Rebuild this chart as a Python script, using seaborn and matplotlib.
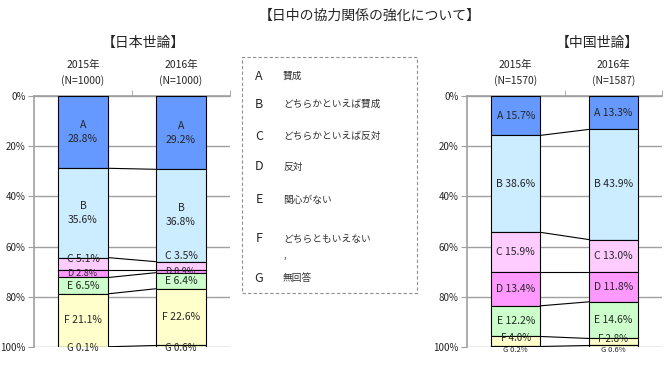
import matplotlib
matplotlib.use('Agg')
import matplotlib.pyplot as plt
import seaborn as sns
import pandas as pd
from matplotlib.patches import Rectangle

# answer categories
cats = ['A', 'B', 'C', 'D', 'E', 'F', 'G']
cat_names = ['賛成', 'どちらかといえば賛成', 'どちらかといえば反対', '反対',
             '関心がない', 'どちらともいえない', '無回答']
colors = ['#6699FF', '#CCECFF', '#FFCCFF', '#FF99FF', '#CCFFCC', '#FFFFCC', '#FFFFCC']

# Japanese public opinion (%)
jp_years = ['2015年\n(N=1000)', '2016年\n(N=1000)']
jp_2015 = [28.8, 35.6, 5.1, 2.8, 6.5, 21.1, 0.1]
jp_2016 = [29.2, 36.8, 3.5, 0.9, 6.4, 22.6, 0.6]

# Chinese public opinion (%)
cn_years = ['2015年\n(N=1570)', '2016年\n(N=1587)']
cn_2015 = [15.7, 38.6, 15.9, 13.4, 12.2, 4.0, 0.2]
cn_2016 = [13.3, 43.9, 13.0, 11.8, 14.6, 2.8, 0.6]

sns.set_style('white')
plt.rcParams['font.family'] = ['Noto Sans CJK JP', 'DejaVu Sans']

W, H = 670, 369


def fx(px):
    return px / W


def fy(py):
    return 1 - py / H


def draw_panel(ax, years, v15, v16, width, two_line, shifts):
    cum = [[0], [0]]
    for v, c in zip((v15, v16), cum):
        for x in v:
            c.append(c[-1] + x)
    for i, cat in enumerate(cats):
        df = pd.DataFrame({'year': years, 'value': [v15[i], v16[i]]})
        sns.barplot(data=df, x='year', y='value', bottom=[cum[0][i], cum[1][i]],
                    color=colors[i], saturation=1, width=width, edgecolor='black',
                    linewidth=0.8, errorbar=None, ax=ax, zorder=3)
    # series lines between the two bars
    for i in range(1, len(cats)):
        ax.plot([width / 2, 1 - width / 2], [cum[0][i], cum[1][i]],
                color='black', lw=0.8, zorder=3)
    # labels
    for j, vals in enumerate((v15, v16)):
        for i, cat in enumerate(cats):
            mid = cum[j][i] + vals[i] / 2
            if cat in two_line:
                txt = f'{cat}\n{vals[i]:.1f}%'
            else:
                txt = f'{cat} {vals[i]:.1f}%'
            y, fs = shifts.get((j, cat), (mid, 7.5))
            ax.text(j, y, txt, ha='center', va='center', fontsize=fs,
                    linespacing=1.5, zorder=4)

    ax.set_xlim(-0.5, 1.5)
    ax.set_ylim(100, 0)
    ax.set_yticks(range(0, 101, 20), [f'{t}%' for t in range(0, 101, 20)])
    ax.xaxis.tick_top()
    ax.set_xticks([0, 1], years)
    ax.set_xticks([0.5, 1.5], minor=True)
    ax.tick_params(axis='x', which='major', length=0, pad=7, labelsize=7.5)
    ax.tick_params(axis='x', which='minor', length=4, color='#A0A0A0', top=True, bottom=False)
    ax.tick_params(axis='y', length=4, color='#A0A0A0', left=True, labelsize=7, pad=2)
    for lab in ax.get_xticklabels():
        lab.set_linespacing(1.6)
    ax.grid(axis='y', color='#A0A0A0', lw=1)
    ax.set_axisbelow(True)
    ax.set_xlabel('')
    ax.set_ylabel('')
    for side in ('right', 'bottom'):
        ax.spines[side].set_visible(False)
    for side in ('left', 'top'):
        ax.spines[side].set_color('#A0A0A0')
        ax.spines[side].set_linewidth(1.2)


fig = plt.figure(figsize=(6.7, 3.69), dpi=100)

ax1 = fig.add_axes([fx(34), fy(347), fx(230) - fx(34), fy(96) - fy(347)])
jp_shift = {(0, 'C'): (64.8, 7.5), (1, 'C'): (63.6, 7.5),
            (0, 'D'): (70.9, 6.5), (1, 'D'): (69.9, 6.5),
            (0, 'G'): (100.2, 7), (1, 'G'): (100.2, 7)}
draw_panel(ax1, jp_years, jp_2015, jp_2016, 0.52, ('A', 'B'), jp_shift)

ax2 = fig.add_axes([fx(467), fy(347), fx(662) - fx(467), fy(96) - fy(347)])
cn_shift = {(0, 'F'): (96.6, 7), (1, 'F'): (96.9, 7),
            (0, 'G'): (101.3, 5.5), (1, 'G'): (101.3, 5.5)}
draw_panel(ax2, cn_years, cn_2015, cn_2016, 0.5, (), cn_shift)

# titles
fig.text(fx(370), fy(16), '【日中の協力関係の強化について】', ha='center', va='center', fontsize=10)
fig.text(fx(143), fy(43), '【日本世論】', ha='center', va='center', fontsize=10)
fig.text(fx(597), fy(43), '【中国世論】', ha='center', va='center', fontsize=10)

# legend box
fig.patches.append(Rectangle((fx(242), fy(293)), fx(417) - fx(242), fy(57) - fy(293),
                             transform=fig.transFigure, fill=False, edgecolor='#909090',
                             linestyle=(0, (3, 2)), lw=0.8))
row_y = [76, 104, 136, 167, 200, 239, 278]
for cat, name, y in zip(cats, cat_names, row_y):
    fig.text(fx(259), fy(y), cat, ha='center', va='center', fontsize=9)
    fig.text(fx(283), fy(y), name, ha='left', va='center', fontsize=7, color='#333333')
fig.text(fx(283), fy(255), ',', ha='left', va='center', fontsize=7, color='#333333')

fig.savefig('out.png', dpi=100)
